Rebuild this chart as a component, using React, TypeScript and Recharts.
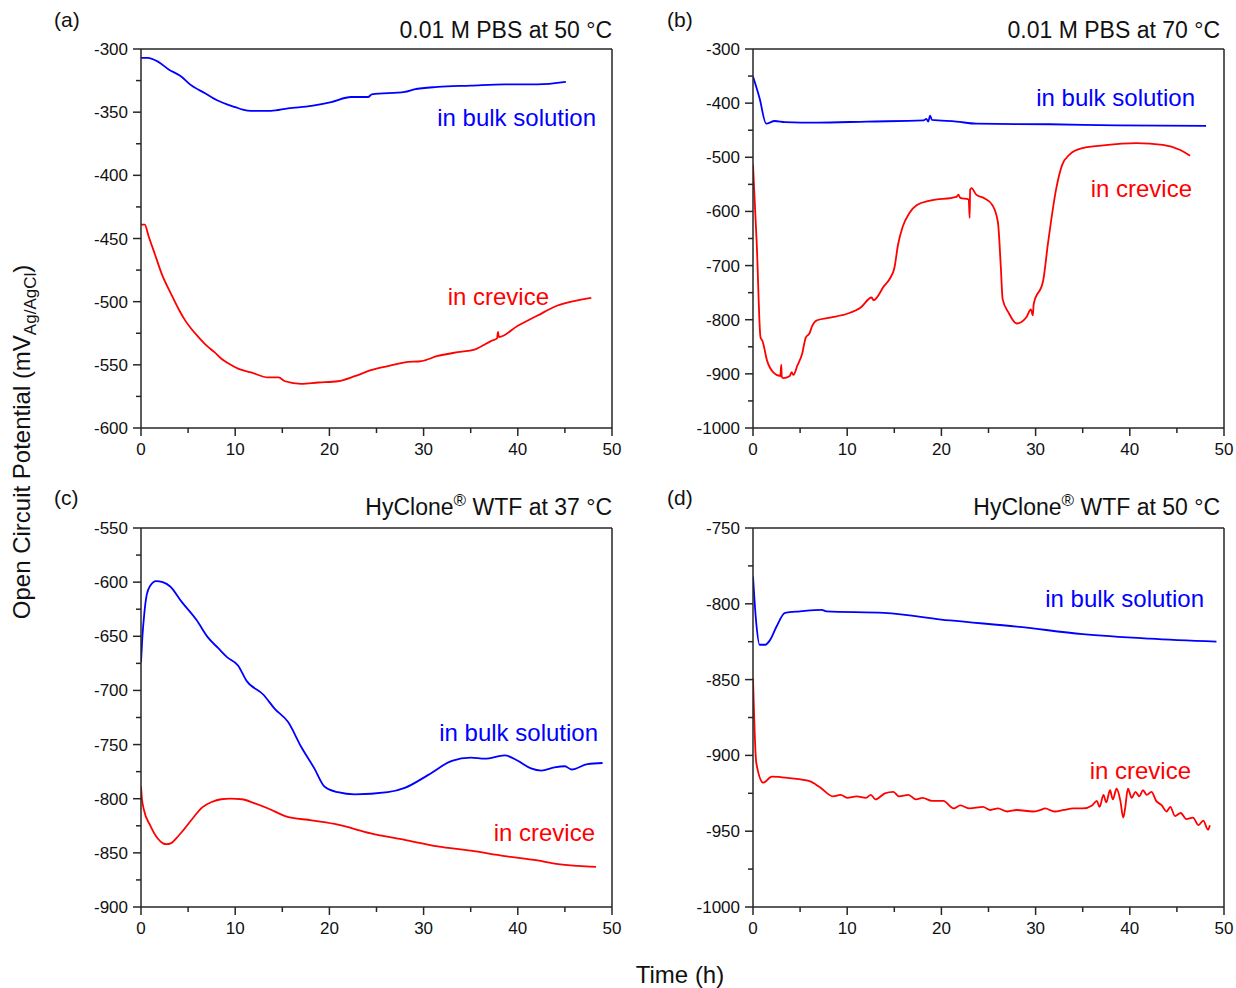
import { LineChart, Line, XAxis, YAxis, ReferenceLine } from 'recharts';

const BLUE = '#0000ff';
const RED = '#ff0000';
const AXIS = '#262626';
const FONT = '"Liberation Sans", Arial, sans-serif';

// x axis (time, h)
const timeTicks = [0, 5, 10, 15, 20, 25, 30, 35, 40, 45, 50];
const timeLabels = [0, 10, 20, 30, 40, 50];

// y axis ticks per panel
const ticksA = [-600, -575, -550, -525, -500, -475, -450, -425, -400, -375, -350, -325, -300];
const labelsA = [-600, -550, -500, -450, -400, -350, -300];
const ticksB = [-1000, -950, -900, -850, -800, -750, -700, -650, -600, -550, -500, -450, -400, -350, -300];
const labelsB = [-1000, -900, -800, -700, -600, -500, -400, -300];
const ticksC = [-900, -875, -850, -825, -800, -775, -750, -725, -700, -675, -650, -625, -600, -575, -550];
const labelsC = [-900, -850, -800, -750, -700, -650, -600, -550];
const ticksD = [-1000, -975, -950, -925, -900, -875, -850, -825, -800, -775, -750];
const labelsD = [-1000, -950, -900, -850, -800, -750];

// (a) 0.01 M PBS at 50 °C
const bulkA = [
  { t: 0, v: -307 }, { t: 0.7, v: -307 }, { t: 1.8, v: -310 }, { t: 2.9, v: -316 },
  { t: 4.3, v: -322 }, { t: 5.2, v: -328 }, { t: 6.8, v: -335 }, { t: 8.2, v: -341 },
  { t: 9.2, v: -344 }, { t: 10, v: -346 }, { t: 10.8, v: -348 }, { t: 11.7, v: -349 },
  { t: 13.8, v: -349 }, { t: 15.6, v: -347 }, { t: 18.1, v: -345 }, { t: 20.2, v: -342 },
  { t: 22.3, v: -338 }, { t: 24.1, v: -338 }, { t: 24.5, v: -336 }, { t: 28, v: -334 },
  { t: 29, v: -332 }, { t: 31.5, v: -330 }, { t: 35, v: -329 }, { t: 38.6, v: -328 },
  { t: 42.1, v: -328 }, { t: 45.1, v: -326 },
];
const creviceA = [
  { t: 0, v: -439 }, { t: 0.4, v: -439 }, { t: 0.8, v: -448 }, { t: 1.5, v: -463 },
  { t: 2.2, v: -478 }, { t: 3.2, v: -494 }, { t: 4.0, v: -506 }, { t: 4.7, v: -515 },
  { t: 5.4, v: -522 }, { t: 6.1, v: -528 }, { t: 7.0, v: -535 }, { t: 7.8, v: -540 },
  { t: 8.5, v: -545 }, { t: 9.3, v: -549 }, { t: 10.3, v: -553 }, { t: 11.7, v: -556 },
  { t: 13.5, v: -560 }, { t: 14.6, v: -560 }, { t: 15.3, v: -563 }, { t: 17, v: -565 },
  { t: 18.8, v: -564 }, { t: 20.9, v: -563 }, { t: 22.7, v: -559 }, { t: 24.5, v: -554 },
  { t: 26.2, v: -551 }, { t: 28, v: -548 }, { t: 29.8, v: -547 }, { t: 31.5, v: -543 },
  { t: 33.6, v: -540 }, { t: 35.4, v: -538 }, { t: 37.2, v: -531 }, { t: 37.8, v: -529 },
  { t: 37.9, v: -524 }, { t: 38, v: -528 }, { t: 40, v: -519 }, { t: 42.1, v: -511 },
  { t: 43.9, v: -504 }, { t: 45.7, v: -500 }, { t: 47.8, v: -497 },
];

// (b) 0.01 M PBS at 70 °C
const bulkB = [
  { t: 0, v: -351 }, { t: 0.7, v: -391 }, { t: 1.4, v: -438 }, { t: 2.3, v: -433 },
  { t: 3.4, v: -435 }, { t: 6.8, v: -436 }, { t: 12.1, v: -434 }, { t: 18.1, v: -432 },
  { t: 18.4, v: -429 }, { t: 18.6, v: -434 }, { t: 18.8, v: -423 }, { t: 19, v: -431 },
  { t: 21.6, v: -434 }, { t: 23.7, v: -438 }, { t: 31.5, v: -439 }, { t: 38.6, v: -441 },
  { t: 48.1, v: -442 },
];
const creviceB = [
  { t: 0, v: -514 }, { t: 0.4, v: -661 }, { t: 0.8, v: -833 }, { t: 1, v: -839 },
  { t: 1.5, v: -876 }, { t: 2.2, v: -898 }, { t: 2.9, v: -904 }, { t: 3.0, v: -883 },
  { t: 3.05, v: -905 }, { t: 3.2, v: -908 }, { t: 3.9, v: -904 }, { t: 4.1, v: -897 },
  { t: 4.3, v: -902 }, { t: 4.7, v: -885 }, { t: 5.2, v: -864 }, { t: 5.6, v: -833 },
  { t: 6.0, v: -825 }, { t: 6.3, v: -811 }, { t: 6.8, v: -801 }, { t: 8.2, v: -796 },
  { t: 10, v: -789 }, { t: 11.4, v: -778 }, { t: 12.6, v: -759 }, { t: 12.8, v: -764 },
  { t: 13.9, v: -738 }, { t: 14.6, v: -722 }, { t: 15, v: -705 }, { t: 15.4, v: -661 },
  { t: 15.9, v: -628 }, { t: 16.6, v: -603 }, { t: 17.4, v: -588 }, { t: 18.8, v: -580 },
  { t: 21.6, v: -573 }, { t: 21.8, v: -569 }, { t: 22, v: -575 }, { t: 22.9, v: -578 },
  { t: 23.0, v: -612 }, { t: 23.05, v: -560 }, { t: 23.2, v: -557 }, { t: 23.7, v: -569 },
  { t: 24.6, v: -576 }, { t: 25.4, v: -588 }, { t: 26.0, v: -620 }, { t: 26.3, v: -700 },
  { t: 26.5, v: -762 }, { t: 27.1, v: -786 }, { t: 28, v: -807 }, { t: 29, v: -796 },
  { t: 29.5, v: -781 }, { t: 29.7, v: -792 }, { t: 29.8, v: -771 }, { t: 30.8, v: -728 },
  { t: 31.3, v: -661 }, { t: 32.2, v: -557 }, { t: 32.8, v: -515 }, { t: 33.6, v: -495 },
  { t: 35, v: -483 }, { t: 37.2, v: -478 }, { t: 40.7, v: -474 }, { t: 43.5, v: -477 },
  { t: 45.3, v: -486 }, { t: 46.4, v: -497 },
];

// (c) HyClone WTF at 37 °C
const bulkC = [
  { t: 0, v: -674 }, { t: 0.15, v: -650 }, { t: 0.35, v: -629 }, { t: 0.6, v: -612 },
  { t: 1.0, v: -603 }, { t: 1.6, v: -599 }, { t: 2.3, v: -600 }, { t: 3.1, v: -604 },
  { t: 4.3, v: -618 }, { t: 5.9, v: -635 }, { t: 7.1, v: -651 }, { t: 8.2, v: -661 },
  { t: 9.1, v: -669 }, { t: 10.3, v: -677 }, { t: 11.2, v: -691 }, { t: 13, v: -704 },
  { t: 14.2, v: -717 }, { t: 15.6, v: -729 }, { t: 17, v: -752 }, { t: 18.4, v: -772 },
  { t: 19.5, v: -789 }, { t: 20.9, v: -794 }, { t: 22.7, v: -796 }, { t: 26.2, v: -794 },
  { t: 28, v: -790 }, { t: 30.5, v: -778 }, { t: 33, v: -765 }, { t: 35, v: -762 },
  { t: 36.5, v: -763 }, { t: 38.6, v: -760 }, { t: 40, v: -765 }, { t: 41.4, v: -772 },
  { t: 42.5, v: -774 }, { t: 43.9, v: -771 }, { t: 45, v: -770 }, { t: 45.7, v: -773 },
  { t: 47.4, v: -768 }, { t: 49, v: -767 },
];
const creviceC = [
  { t: 0, v: -789 }, { t: 0.1, v: -800 }, { t: 0.3, v: -810 }, { t: 1.0, v: -825 },
  { t: 1.8, v: -837 }, { t: 2.3, v: -841 }, { t: 2.7, v: -842 }, { t: 3.2, v: -841 },
  { t: 3.8, v: -836 }, { t: 4.5, v: -829 }, { t: 5.5, v: -818 }, { t: 6.5, v: -808 },
  { t: 7.5, v: -803 }, { t: 8.5, v: -800.5 }, { t: 9.5, v: -800 }, { t: 10.7, v: -800.5 },
  { t: 12, v: -804 }, { t: 13.5, v: -809 }, { t: 15.3, v: -816 }, { t: 18.1, v: -820 },
  { t: 20.9, v: -824 }, { t: 24.4, v: -832 }, { t: 28, v: -838 }, { t: 31.5, v: -844 },
  { t: 35, v: -848 }, { t: 38.6, v: -853 }, { t: 42.1, v: -857 }, { t: 43.9, v: -860 },
  { t: 46.4, v: -862 }, { t: 48.3, v: -863 },
];

// (d) HyClone WTF at 50 °C
const bulkD = [
  { t: 0, v: -782 }, { t: 0.35, v: -813 }, { t: 0.7, v: -827 }, { t: 1.3, v: -827 },
  { t: 1.8, v: -824 }, { t: 2.5, v: -815 }, { t: 3.4, v: -806 }, { t: 5, v: -805 },
  { t: 7.3, v: -804 }, { t: 7.8, v: -805 }, { t: 13.9, v: -806 }, { t: 20.9, v: -811 },
  { t: 28, v: -815 }, { t: 35, v: -820 }, { t: 42.1, v: -823 }, { t: 49.2, v: -825 },
];
const creviceD = [
  { t: 0, v: -849 }, { t: 0.35, v: -905 }, { t: 1.1, v: -918 }, { t: 2, v: -914 },
  { t: 3.9, v: -915 }, { t: 6, v: -917 }, { t: 7.1, v: -921 }, { t: 8.5, v: -927 },
  { t: 9.3, v: -926 }, { t: 10, v: -928 }, { t: 11, v: -927 }, { t: 12, v: -928 },
  { t: 12.5, v: -926 }, { t: 13, v: -929 }, { t: 14, v: -925 }, { t: 14.9, v: -924 },
  { t: 15.5, v: -927 }, { t: 16.5, v: -926 }, { t: 17.3, v: -929 }, { t: 18, v: -928 },
  { t: 19, v: -930 }, { t: 20.2, v: -930 }, { t: 21.3, v: -935 }, { t: 22, v: -933 },
  { t: 23, v: -935 }, { t: 24.4, v: -934 }, { t: 25.2, v: -936 }, { t: 26, v: -935 },
  { t: 27, v: -937 }, { t: 28, v: -936 }, { t: 29.7, v: -937 }, { t: 30.5, v: -936 },
  { t: 31, v: -935 }, { t: 32, v: -937 }, { t: 33, v: -936 }, { t: 34, v: -935 },
  { t: 35, v: -935 }, { t: 36, v: -933 }, { t: 36.5, v: -930 }, { t: 36.8, v: -934 },
  { t: 37.2, v: -926 }, { t: 37.5, v: -931 }, { t: 37.9, v: -923 }, { t: 38.2, v: -929 },
  { t: 38.6, v: -922 }, { t: 39, v: -930 }, { t: 39.3, v: -941 }, { t: 39.5, v: -935 },
  { t: 39.8, v: -922 }, { t: 40.2, v: -928 }, { t: 40.6, v: -924 }, { t: 41, v: -927 },
  { t: 41.4, v: -923 }, { t: 41.8, v: -926 }, { t: 42.3, v: -924 }, { t: 42.8, v: -930 },
  { t: 43.4, v: -933 }, { t: 43.9, v: -937 }, { t: 44.3, v: -934 }, { t: 44.8, v: -940 },
  { t: 45.4, v: -938 }, { t: 46, v: -942 }, { t: 46.7, v: -941 }, { t: 47.3, v: -946 },
  { t: 47.8, v: -943 }, { t: 48.3, v: -949 }, { t: 48.5, v: -946 },
];

function XTick({ x, y, payload }: any) {
  const major = timeLabels.includes(payload.value);
  return (
    <g>
      <line x1={x} y1={y} x2={x} y2={y + (major ? 8 : 5)} stroke={AXIS} strokeWidth={1.5} />
      {major && (
        <text x={x} y={y + 27} textAnchor="middle" fontSize={17} fill="#111" fontFamily={FONT}>
          {payload.value}
        </text>
      )}
    </g>
  );
}

const makeYTick = (labels: number[]) =>
  function YTick({ x, y, payload }: any) {
    const major = labels.includes(payload.value);
    return (
      <g>
        <line x1={x - (major ? 8 : 5)} y1={y} x2={x} y2={y} stroke={AXIS} strokeWidth={1.5} />
        {major && (
          <text x={x - 13} y={y + 6} textAnchor="end" fontSize={17} fill="#111" fontFamily={FONT}>
            {payload.value}
          </text>
        )}
      </g>
    );
  };

type Pt = { t: number; v: number };

function Panel({ left, top, ticks, labels, bulk, crevice }: {
  left: number; top: number; ticks: number[]; labels: number[]; bulk: Pt[]; crevice: Pt[];
}) {
  const yMin = ticks[0];
  const yMax = ticks[ticks.length - 1];
  return (
    <div style={{ position: 'absolute', left, top }}>
      <LineChart width={560} height={470} margin={{ top: 49, right: 28, bottom: 12, left: 0 }}>
        <XAxis
          dataKey="t"
          type="number"
          domain={[0, 50]}
          ticks={timeTicks}
          interval={0}
          tickSize={0}
          tickMargin={0}
          tickLine={false}
          tick={<XTick />}
          axisLine={{ stroke: AXIS, strokeWidth: 1.5 }}
          height={30}
          allowDataOverflow
        />
        <YAxis
          dataKey="v"
          type="number"
          domain={[yMin, yMax]}
          ticks={ticks}
          interval={0}
          tickSize={0}
          tickMargin={0}
          tickLine={false}
          tick={makeYTick(labels)}
          axisLine={{ stroke: AXIS, strokeWidth: 1.5 }}
          width={61}
          allowDataOverflow
        />
        <ReferenceLine y={yMax} stroke={AXIS} strokeWidth={1.5} />
        <ReferenceLine x={50} stroke={AXIS} strokeWidth={1.5} />
        <Line data={bulk} dataKey="v" type="monotone" stroke={BLUE} strokeWidth={1.8} dot={false} isAnimationActive={false} />
        <Line data={crevice} dataKey="v" type="monotone" stroke={RED} strokeWidth={1.8} dot={false} isAnimationActive={false} />
      </LineChart>
    </div>
  );
}

export default function App() {
  const txt = { fontFamily: FONT, fill: '#111' };
  return (
    <div style={{ position: 'absolute', left: 0, top: 0, width: 1236, height: 988, background: '#fff' }}>
      <Panel left={80} top={0} ticks={ticksA} labels={labelsA} bulk={bulkA} crevice={creviceA} />
      <Panel left={692} top={0} ticks={ticksB} labels={labelsB} bulk={bulkB} crevice={creviceB} />
      <Panel left={80} top={479} ticks={ticksC} labels={labelsC} bulk={bulkC} crevice={creviceC} />
      <Panel left={692} top={479} ticks={ticksD} labels={labelsD} bulk={bulkD} crevice={creviceD} />
      <svg width={1236} height={988} style={{ position: 'absolute', left: 0, top: 0, pointerEvents: 'none' }}>
        <g {...txt} fontSize={21}>
          <text x={54} y={27}>(a)</text>
          <text x={667} y={27}>(b)</text>
          <text x={54} y={505}>(c)</text>
          <text x={667} y={505}>(d)</text>
        </g>
        <g {...txt} fontSize={23} textAnchor="end">
          <text x={612} y={38}>0.01 M PBS at 50 °C</text>
          <text x={1220} y={38}>0.01 M PBS at 70 °C</text>
          <text x={612} y={515}>HyClone<tspan fontSize={17} dy={-9}>®</tspan><tspan dy={9}> WTF at 37 °C</tspan></text>
          <text x={1220} y={515}>HyClone<tspan fontSize={17} dy={-9}>®</tspan><tspan dy={9}> WTF at 50 °C</tspan></text>
        </g>
        <g fontFamily={FONT} fontSize={24} textAnchor="end">
          <text x={596} y={126} fill={BLUE}>in bulk solution</text>
          <text x={549} y={305} fill={RED}>in crevice</text>
          <text x={1195} y={106} fill={BLUE}>in bulk solution</text>
          <text x={1192} y={197} fill={RED}>in crevice</text>
          <text x={598} y={741} fill={BLUE}>in bulk solution</text>
          <text x={595} y={841} fill={RED}>in crevice</text>
          <text x={1204} y={607} fill={BLUE}>in bulk solution</text>
          <text x={1191} y={779} fill={RED}>in crevice</text>
        </g>
        <text {...txt} fontSize={24} x={680} y={983} textAnchor="middle">Time (h)</text>
        <text {...txt} fontSize={24} transform="translate(30, 442) rotate(-90)" textAnchor="middle">
          Open Circuit Potential (mV<tspan fontSize={17} dy={6}>Ag/AgCl</tspan><tspan dy={-6}>)</tspan>
        </text>
      </svg>
    </div>
  );
}
